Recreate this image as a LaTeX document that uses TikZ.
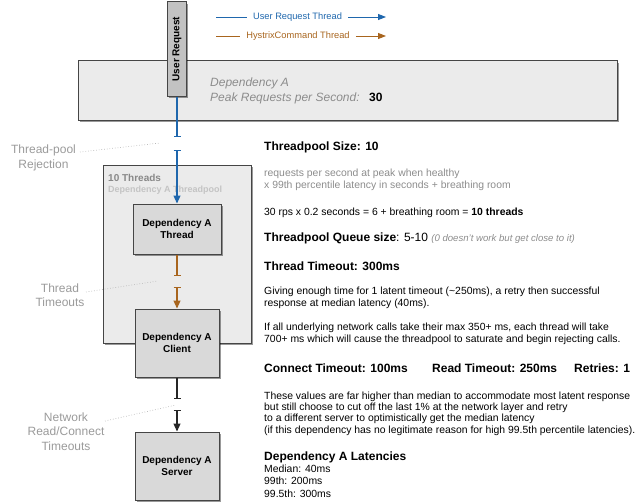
\documentclass[tikz,border=0pt]{standalone}
\usepackage{fontspec}
\setmainfont{Liberation Sans}
\usepackage{graphicx}
\usetikzlibrary{arrows.meta,shadows}
\definecolor{boxborder}{HTML}{454545}
\definecolor{panelfill}{HTML}{EBEBEB}
\definecolor{compfill}{HTML}{D9D9D9}
\definecolor{ureqfill}{HTML}{C2C2C2}
\definecolor{blueline}{HTML}{1F67AD}
\definecolor{brownline}{HTML}{A8651E}
\definecolor{softgray}{HTML}{8C8C8C}
\definecolor{labelgray}{HTML}{9A9A9A}
\definecolor{palegray}{HTML}{C4C4C4}
\definecolor{threadsgray}{HTML}{888888}
\begin{document}
\begin{tikzpicture}[x=1pt,y=-1pt,
  shad/.style={drop shadow={shadow xshift=1.5pt,shadow yshift=-2pt,opacity=0.4,fill=black}},
  panel/.style={draw=boxborder,line width=1pt,fill=panelfill,shad,inner sep=0pt},
  comp/.style={draw=boxborder,line width=1pt,fill=compfill,shad,inner sep=0pt,align=center,
     font=\fontsize{10}{12.5}\selectfont\bfseries},
  txt/.style={anchor=base west,inner sep=0pt,font=\fontsize{10.4}{12}\selectfont},
  graytxt/.style={txt,text=softgray},
  head/.style={anchor=base west,inner sep=0pt,font=\fontsize{12}{14}\selectfont\bfseries},
  sidelabel/.style={align=center,inner sep=0pt,text=labelgray,font=\fontsize{12}{14.3}\selectfont},
  legtxt/.style={inner xsep=6pt,inner ysep=0pt,font=\fontsize{9.3}{11}\selectfont},
  conn/.style={line width=1.1pt},
  barend/.style={-{Bar[width=7pt,line width=0.9pt]}},
  bararrow/.style={{Bar[width=7pt,line width=0.9pt]}-{Triangle[width=7pt,length=8pt]}},
  leader/.style={draw=labelgray!70,dotted,line width=0.7pt}
]
\useasboundingbox (0,0) rectangle (640,503);

% legend
\node[legtxt,text=blueline] (legU) at (297.5,17) {User Request Thread};
\coordinate (legUa) at (216,17);
\coordinate (legUb) at (386,17);
\draw[blueline,line width=0.9pt] (legUa) -- (legU.west);
\draw[blueline,line width=0.9pt,-{Triangle[width=6pt,length=8pt]}] (legU.east) -- (legUb);
\node[legtxt,text=brownline] (legH) at (298,36) {HystrixCommand Thread};
\coordinate (legHa) at (216,36);
\coordinate (legHb) at (386,36);
\draw[brownline,line width=0.9pt] (legHa) -- (legH.west);
\draw[brownline,line width=0.9pt,-{Triangle[width=6pt,length=8pt]}] (legH.east) -- (legHb);

% dependency A panel
\node[panel,minimum width=539pt,minimum height=59pt] (depA) at (347.5,90.5) {};
\node[anchor=base west,inner sep=0pt,text=softgray,font=\fontsize{12}{14}\selectfont\itshape] (depAname) at (210,86) {Dependency A};
\node[anchor=base west,inner sep=0pt,text=softgray,font=\fontsize{12}{14}\selectfont\itshape] (peak) at (210,101) {Peak Requests per Second:};
\node[anchor=base west,inner sep=0pt,font=\fontsize{12}{14}\selectfont\bfseries] (peakval) at (369,101) {30};

% user request
\node[comp,fill=ureqfill,minimum width=19pt,minimum height=94pt] (ureq) at (177,49) {\rotatebox{90}{User Request}};

% threadpool panel
\node[panel,minimum width=148pt,minimum height=178pt] (pool) at (177,254) {};
\node[anchor=base west,inner sep=0pt,text=threadsgray,font=\fontsize{10}{12}\selectfont\bfseries] (tencount) at (108,181) {10 Threads};
\node[anchor=base west,inner sep=0pt,text=palegray,font=\fontsize{9}{11}\selectfont\bfseries] (poolname) at (108,192) {Dependency A Threadpool};

% components
\node[comp,minimum width=88pt,minimum height=50pt] (thread) at (177,229) {Dependency A\\Thread};
\node[comp,minimum width=84pt,minimum height=68pt] (client) at (177,343) {Dependency A\\Client};
\node[comp,minimum width=84pt,minimum height=68pt] (server) at (177,466) {Dependency A\\Server};

% connectors
\coordinate (bu1) at (177,137);
\coordinate (bu2) at (177,150);
\draw[conn,blueline,barend] (ureq.south) -- (bu1);
\draw[conn,blueline,bararrow] (bu2) -- (thread.north);
\coordinate (bh1) at (177,276);
\coordinate (bh2) at (177,287);
\draw[conn,brownline,barend] (thread.south) -- (bh1);
\draw[conn,brownline,bararrow] (bh2) -- (client.north);
\coordinate (bn1) at (177,399);
\coordinate (bn2) at (177,410);
\draw[conn,black!85,barend] (client.south) -- (bn1);
\draw[conn,black!85,bararrow] (bn2) -- (server.north);

% side labels
\node[sidelabel] (rej) at (43.5,158) {Thread-pool\\Rejection};
\coordinate (rejA) at (80,152);
\coordinate (rejB) at (160,143);
\draw[leader] (rejA) -- (rejB);
\node[sidelabel] (tto) at (60,295) {Thread\\Timeouts};
\coordinate (ttoA) at (86,292);
\coordinate (ttoB) at (158,281);
\draw[leader] (ttoA) -- (ttoB);
\node[sidelabel] (net) at (66,431.5) {Network\\Read/Connect\\Timeouts};
\coordinate (netA) at (105,421);
\coordinate (netB) at (176,405);
\draw[leader] (netA) -- (netB);

% right column
\node[head] (tpsize) at (264,150) {Threadpool Size: 10};
\node[graytxt] (f1) at (264,176) {requests per second at peak when healthy};
\node[graytxt] (f2) at (264,188) {x 99th percentile latency in seconds + breathing room};
\node[txt] (calc) at (264,215) {30 rps x 0.2 seconds = 6 + breathing room = \textbf{10 threads}};
\node[head] (queue) at (264,241) {Threadpool Queue size\mdseries: 5-10 \textcolor{softgray}{\fontsize{9.6}{11}\selectfont\itshape (0 doesn't work but get close to it)}};
\node[head] (tto2) at (264,270) {Thread Timeout: 300ms};
\node[txt] (g1) at (264,294) {Giving enough time for 1 latent timeout (\textasciitilde250ms), a retry then successful};
\node[txt] (g2) at (264,306) {response at median latency (40ms).};
\node[txt] (i1) at (264,330) {If all underlying network calls take their max 350+ ms, each thread will take};
\node[txt] (i2) at (264,342) {700+ ms which will cause the threadpool to saturate and begin rejecting calls.};
\node[head] (ct) at (264,372) {Connect Timeout: 100ms};
\node[head] (rt) at (432,372) {Read Timeout: 250ms};
\node[head] (rtr) at (574,372) {Retries: 1};
\node[txt] (v1) at (264,399) {These values are far higher than median to accommodate most latent response};
\node[txt] (v2) at (264,410.5) {but still choose to cut off the last 1\% at the network layer and retry};
\node[txt] (v3) at (264,421.5) {to a different server to optimistically get the median latency};
\node[txt] (v4) at (264,433) {(if this dependency has no legitimate reason for high 99.5th percentile latencies).};
\node[head] (lat) at (264,460) {Dependency A Latencies};
\node[txt] (m1) at (264,472) {Median: 40ms};
\node[txt] (m2) at (264,484.5) {99th: 200ms};
\node[txt] (m3) at (264,497) {99.5th: 300ms};
\end{tikzpicture}
\end{document}
